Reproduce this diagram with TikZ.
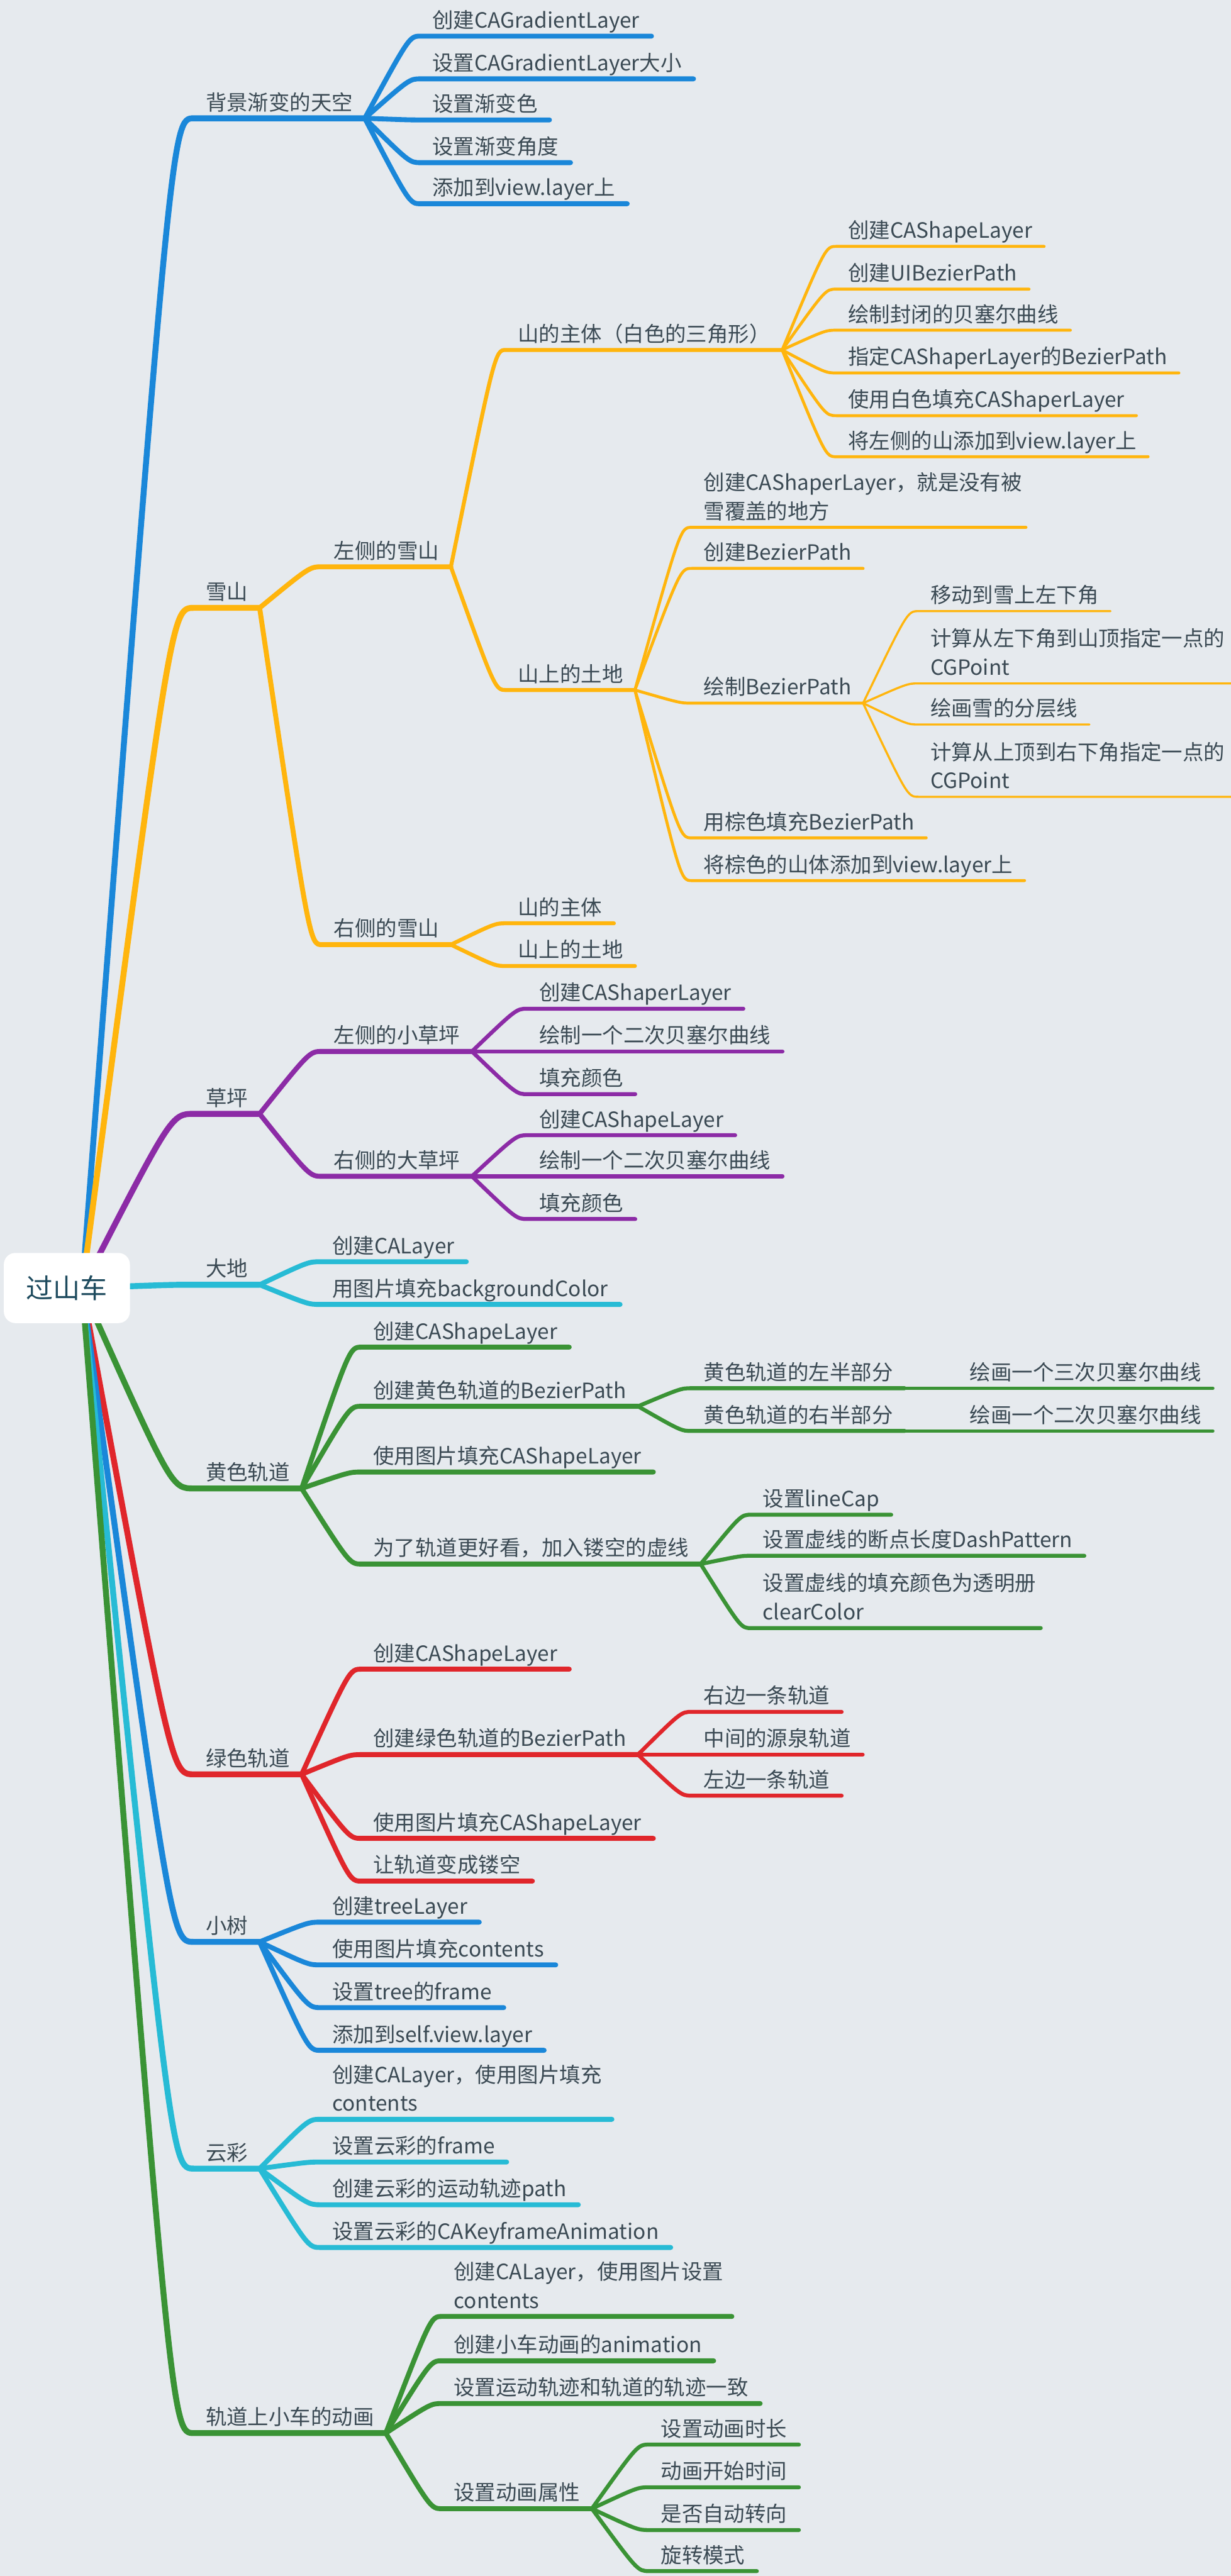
\documentclass[tikz,border=0pt]{standalone}
\usepackage{fontspec}
\setmainfont{Noto Sans CJK SC}
\usetikzlibrary{calc}

\definecolor{bg}{HTML}{E6EAEE}
\definecolor{ink}{HTML}{3B4A54}
\definecolor{rootink}{HTML}{1E4B5E}
\definecolor{skyblue}{HTML}{1A87D9}
\definecolor{snow}{HTML}{FFB50D}
\definecolor{grass}{HTML}{8C2BA6}
\definecolor{earth}{HTML}{27BBD5}
\definecolor{leaf}{HTML}{3A9335}
\definecolor{rail}{HTML}{E0262B}

\begin{document}
\begin{tikzpicture}[x=1pt,y=-1pt,
    lbl/.style={anchor=south west, inner xsep=7pt, inner ysep=1.6pt, text depth=3.2pt,
        text=ink, font=\fontsize{12.8}{17.5}\selectfont},
    twig/.style={to path={.. controls ($(\tikztostart |- \tikztotarget)!0.8!(\tikztotarget)$) .. (\tikztotarget)}},
    wA/.style={line width=3.6pt, line cap=round, line join=round},
    wB/.style={line width=3pt, line cap=round, line join=round},
    wC/.style={line width=2.4pt, line cap=round, line join=round},
    wD/.style={line width=1.8pt, line cap=round, line join=round},
    wE/.style={line width=1.3pt, line cap=round, line join=round}]
    \useasboundingbox (0,0) rectangle (749,1568);
    \fill[bg] (0,0) rectangle (749,1568);
    \coordinate (hub) at (50,784);

    % 背景渐变的天空
    \node[lbl] (sky) at (118,72) {背景渐变的天空};
    \draw[skyblue,wA] (hub) to[twig] (sky.south west) -- (sky.south east);
    \node[lbl] (sky1) at (256,22) {创建CAGradientLayer};
    \node[lbl] (sky2) at (256,48) {设置CAGradientLayer大小};
    \node[lbl] (sky3) at (256,73) {设置渐变色};
    \node[lbl] (sky4) at (256,99) {设置渐变角度};
    \node[lbl] (sky5) at (256,124) {添加到view.layer上};
    \draw[skyblue,wB] (sky.south east) to[twig] (sky1.south west) -- (sky1.south east);
    \draw[skyblue,wB] (sky.south east) to[twig] (sky2.south west) -- (sky2.south east);
    \draw[skyblue,wB] (sky.south east) to[twig] (sky3.south west) -- (sky3.south east);
    \draw[skyblue,wB] (sky.south east) to[twig] (sky4.south west) -- (sky4.south east);
    \draw[skyblue,wB] (sky.south east) to[twig] (sky5.south west) -- (sky5.south east);

    % 雪山
    \node[lbl] (snow) at (118,370) {雪山};
    \draw[snow,wA] (hub) to[twig] (snow.south west) -- (snow.south east);
    \node[lbl] (snowL) at (196,345) {左侧的雪山};
    \node[lbl] (snowR) at (196,575) {右侧的雪山};
    \draw[snow,wB] (snow.south east) to[twig] (snowL.south west) -- (snowL.south east);
    \draw[snow,wB] (snow.south east) to[twig] (snowR.south west) -- (snowR.south east);

    \node[lbl] (bodyL) at (308,213) {山的主体（白色的三角形）};
    \node[lbl] (soilL) at (308,420) {山上的土地};
    \draw[snow,wC] (snowL.south east) to[twig] (bodyL.south west) -- (bodyL.south east);
    \draw[snow,wC] (snowL.south east) to[twig] (soilL.south west) -- (soilL.south east);

    \node[lbl] (body1) at (509,150) {创建CAShapeLayer};
    \node[lbl] (body2) at (509,176) {创建UIBezierPath};
    \node[lbl] (body3) at (509,201) {绘制封闭的贝塞尔曲线};
    \node[lbl] (body4) at (509,227) {指定CAShaperLayer的BezierPath};
    \node[lbl] (body5) at (509,253) {使用白色填充CAShaperLayer};
    \node[lbl] (body6) at (509,278) {将左侧的山添加到view.layer上};
    \draw[snow,wD] (bodyL.south east) to[twig] (body1.south west) -- (body1.south east);
    \draw[snow,wD] (bodyL.south east) to[twig] (body2.south west) -- (body2.south east);
    \draw[snow,wD] (bodyL.south east) to[twig] (body3.south west) -- (body3.south east);
    \draw[snow,wD] (bodyL.south east) to[twig] (body4.south west) -- (body4.south east);
    \draw[snow,wD] (bodyL.south east) to[twig] (body5.south west) -- (body5.south east);
    \draw[snow,wD] (bodyL.south east) to[twig] (body6.south west) -- (body6.south east);

    \node[lbl] (soil1) at (421,321) {\parbox[b]{189pt}{创建CAShaperLayer，就是没有被\\雪覆盖的地方}};
    \node[lbl] (soil2) at (421,346) {创建BezierPath};
    \node[lbl] (soil3) at (421,428) {绘制BezierPath};
    \node[lbl] (soil4) at (421,510) {用棕色填充BezierPath};
    \node[lbl] (soil5) at (421,536) {将棕色的山体添加到view.layer上};
    \draw[snow,wD] (soilL.south east) to[twig] (soil1.south west) -- (soil1.south east);
    \draw[snow,wD] (soilL.south east) to[twig] (soil2.south west) -- (soil2.south east);
    \draw[snow,wD] (soilL.south east) to[twig] (soil3.south west) -- (soil3.south east);
    \draw[snow,wD] (soilL.south east) to[twig] (soil4.south west) -- (soil4.south east);
    \draw[snow,wD] (soilL.south east) to[twig] (soil5.south west) -- (soil5.south east);

    \node[lbl] (path1) at (559,372) {移动到雪上左下角};
    \node[lbl] (path2) at (559,416) {\parbox[b]{180pt}{计算从左下角到山顶指定一点的\\CGPoint}};
    \node[lbl] (path3) at (559,441) {绘画雪的分层线};
    \node[lbl] (path4) at (559,485) {\parbox[b]{180pt}{计算从上顶到右下角指定一点的\\CGPoint}};
    \draw[snow,wE] (soil3.south east) to[twig] (path1.south west) -- (path1.south east);
    \draw[snow,wE] (soil3.south east) to[twig] (path2.south west) -- (path2.south east);
    \draw[snow,wE] (soil3.south east) to[twig] (path3.south west) -- (path3.south east);
    \draw[snow,wE] (soil3.south east) to[twig] (path4.south west) -- (path4.south east);

    \node[lbl] (bodyR) at (308,562) {山的主体};
    \node[lbl] (soilR) at (308,588) {山上的土地};
    \draw[snow,wC] (snowR.south east) to[twig] (bodyR.south west) -- (bodyR.south east);
    \draw[snow,wC] (snowR.south east) to[twig] (soilR.south west) -- (soilR.south east);

    % 草坪
    \node[lbl] (lawn) at (118,678) {草坪};
    \draw[grass,wA] (hub) to[twig] (lawn.south west) -- (lawn.south east);
    \node[lbl] (lawnL) at (196,640) {左侧的小草坪};
    \node[lbl] (lawnR) at (196,716) {右侧的大草坪};
    \draw[grass,wB] (lawn.south east) to[twig] (lawnL.south west) -- (lawnL.south east);
    \draw[grass,wB] (lawn.south east) to[twig] (lawnR.south west) -- (lawnR.south east);
    \node[lbl] (lawnL1) at (321,614) {创建CAShaperLayer};
    \node[lbl] (lawnL2) at (321,640) {绘制一个二次贝塞尔曲线};
    \node[lbl] (lawnL3) at (321,666) {填充颜色};
    \node[lbl] (lawnR1) at (321,691) {创建CAShapeLayer};
    \node[lbl] (lawnR2) at (321,716) {绘制一个二次贝塞尔曲线};
    \node[lbl] (lawnR3) at (321,742) {填充颜色};
    \draw[grass,wC] (lawnL.south east) to[twig] (lawnL1.south west) -- (lawnL1.south east);
    \draw[grass,wC] (lawnL.south east) to[twig] (lawnL2.south west) -- (lawnL2.south east);
    \draw[grass,wC] (lawnL.south east) to[twig] (lawnL3.south west) -- (lawnL3.south east);
    \draw[grass,wC] (lawnR.south east) to[twig] (lawnR1.south west) -- (lawnR1.south east);
    \draw[grass,wC] (lawnR.south east) to[twig] (lawnR2.south west) -- (lawnR2.south east);
    \draw[grass,wC] (lawnR.south east) to[twig] (lawnR3.south west) -- (lawnR3.south east);

    % 大地
    \node[lbl] (ground) at (118,782) {大地};
    \draw[earth,wA] (hub) to[twig] (ground.south west) -- (ground.south east);
    \node[lbl] (ground1) at (195,768) {创建CALayer};
    \node[lbl] (ground2) at (195,794) {用图片填充backgroundColor};
    \draw[earth,wB] (ground.south east) to[twig] (ground1.south west) -- (ground1.south east);
    \draw[earth,wB] (ground.south east) to[twig] (ground2.south west) -- (ground2.south east);

    % 黄色轨道
    \node[lbl] (ytrack) at (118,906) {黄色轨道};
    \draw[leaf,wA] (hub) to[twig] (ytrack.south west) -- (ytrack.south east);
    \node[lbl] (ytrack1) at (220,820) {创建CAShapeLayer};
    \node[lbl] (ytrack2) at (220,856) {创建黄色轨道的BezierPath};
    \node[lbl] (ytrack3) at (220,896) {使用图片填充CAShapeLayer};
    \node[lbl] (ytrack4) at (220,952) {为了轨道更好看，加入镂空的虚线};
    \draw[leaf,wB] (ytrack.south east) to[twig] (ytrack1.south west) -- (ytrack1.south east);
    \draw[leaf,wB] (ytrack.south east) to[twig] (ytrack2.south west) -- (ytrack2.south east);
    \draw[leaf,wB] (ytrack.south east) to[twig] (ytrack3.south west) -- (ytrack3.south east);
    \draw[leaf,wB] (ytrack.south east) to[twig] (ytrack4.south west) -- (ytrack4.south east);
    \node[lbl] (yleft) at (421,845) {黄色轨道的左半部分};
    \node[lbl] (yright) at (421,871) {黄色轨道的右半部分};
    \draw[leaf,wC] (ytrack2.south east) to[twig] (yleft.south west) -- (yleft.south east);
    \draw[leaf,wC] (ytrack2.south east) to[twig] (yright.south west) -- (yright.south east);
    \node[lbl] (ycubic) at (583,845) {绘画一个三次贝塞尔曲线};
    \node[lbl] (yquad) at (583,871) {绘画一个二次贝塞尔曲线};
    \draw[leaf,wD] (yleft.south east) -- (ycubic.south west) -- (ycubic.south east);
    \draw[leaf,wD] (yright.south east) -- (yquad.south west) -- (yquad.south east);
    \node[lbl] (ydash1) at (457,922) {设置lineCap};
    \node[lbl] (ydash2) at (457,947) {设置虚线的断点长度DashPattern};
    \node[lbl] (ydash3) at (457,991) {\parbox[b]{162pt}{设置虚线的填充颜色为透明册\\clearColor}};
    \draw[leaf,wC] (ytrack4.south east) to[twig] (ydash1.south west) -- (ydash1.south east);
    \draw[leaf,wC] (ytrack4.south east) to[twig] (ydash2.south west) -- (ydash2.south east);
    \draw[leaf,wC] (ytrack4.south east) to[twig] (ydash3.south west) -- (ydash3.south east);

    % 绿色轨道
    \node[lbl] (gtrack) at (118,1080) {绿色轨道};
    \draw[rail,wA] (hub) to[twig] (gtrack.south west) -- (gtrack.south east);
    \node[lbl] (gtrack1) at (220,1016) {创建CAShapeLayer};
    \node[lbl] (gtrack2) at (220,1068) {创建绿色轨道的BezierPath};
    \node[lbl] (gtrack3) at (220,1119) {使用图片填充CAShapeLayer};
    \node[lbl] (gtrack4) at (220,1145) {让轨道变成镂空};
    \draw[rail,wB] (gtrack.south east) to[twig] (gtrack1.south west) -- (gtrack1.south east);
    \draw[rail,wB] (gtrack.south east) to[twig] (gtrack2.south west) -- (gtrack2.south east);
    \draw[rail,wB] (gtrack.south east) to[twig] (gtrack3.south west) -- (gtrack3.south east);
    \draw[rail,wB] (gtrack.south east) to[twig] (gtrack4.south west) -- (gtrack4.south east);
    \node[lbl] (gpath1) at (421,1042) {右边一条轨道};
    \node[lbl] (gpath2) at (421,1068) {中间的源泉轨道};
    \node[lbl] (gpath3) at (421,1093) {左边一条轨道};
    \draw[rail,wC] (gtrack2.south east) to[twig] (gpath1.south west) -- (gpath1.south east);
    \draw[rail,wC] (gtrack2.south east) to[twig] (gpath2.south west) -- (gpath2.south east);
    \draw[rail,wC] (gtrack2.south east) to[twig] (gpath3.south west) -- (gpath3.south east);

    % 小树
    \node[lbl] (tree) at (118,1182) {小树};
    \draw[skyblue,wA] (hub) to[twig] (tree.south west) -- (tree.south east);
    \node[lbl] (tree1) at (195,1170) {创建treeLayer};
    \node[lbl] (tree2) at (195,1196) {使用图片填充contents};
    \node[lbl] (tree3) at (195,1222) {设置tree的frame};
    \node[lbl] (tree4) at (195,1248) {添加到self.view.layer};
    \draw[skyblue,wB] (tree.south east) to[twig] (tree1.south west) -- (tree1.south east);
    \draw[skyblue,wB] (tree.south east) to[twig] (tree2.south west) -- (tree2.south east);
    \draw[skyblue,wB] (tree.south east) to[twig] (tree3.south west) -- (tree3.south east);
    \draw[skyblue,wB] (tree.south east) to[twig] (tree4.south west) -- (tree4.south east);

    % 云彩
    \node[lbl] (cloud) at (118,1320) {云彩};
    \draw[earth,wA] (hub) to[twig] (cloud.south west) -- (cloud.south east);
    \node[lbl] (cloud1) at (195,1290) {\parbox[b]{163pt}{创建CALayer，使用图片填充\\contents}};
    \node[lbl] (cloud2) at (195,1316) {设置云彩的frame};
    \node[lbl] (cloud3) at (195,1342) {创建云彩的运动轨迹path};
    \node[lbl] (cloud4) at (195,1368) {设置云彩的CAKeyframeAnimation};
    \draw[earth,wB] (cloud.south east) to[twig] (cloud1.south west) -- (cloud1.south east);
    \draw[earth,wB] (cloud.south east) to[twig] (cloud2.south west) -- (cloud2.south east);
    \draw[earth,wB] (cloud.south east) to[twig] (cloud3.south west) -- (cloud3.south east);
    \draw[earth,wB] (cloud.south east) to[twig] (cloud4.south west) -- (cloud4.south east);

    % 轨道上小车的动画
    \node[lbl] (car) at (118,1481) {轨道上小车的动画};
    \draw[leaf,wA] (hub) to[twig] (car.south west) -- (car.south east);
    \node[lbl] (car1) at (269,1410) {\parbox[b]{162pt}{创建CALayer，使用图片设置\\contents}};
    \node[lbl] (car2) at (269,1437) {创建小车动画的animation};
    \node[lbl] (car3) at (269,1463) {设置运动轨迹和轨道的轨迹一致};
    \node[lbl] (car4) at (269,1527) {设置动画属性};
    \draw[leaf,wB] (car.south east) to[twig] (car1.south west) -- (car1.south east);
    \draw[leaf,wB] (car.south east) to[twig] (car2.south west) -- (car2.south east);
    \draw[leaf,wB] (car.south east) to[twig] (car3.south west) -- (car3.south east);
    \draw[leaf,wB] (car.south east) to[twig] (car4.south west) -- (car4.south east);
    \node[lbl] (prop1) at (395,1488) {设置动画时长};
    \node[lbl] (prop2) at (395,1514) {动画开始时间};
    \node[lbl] (prop3) at (395,1540) {是否自动转向};
    \node[lbl] (prop4) at (395,1565) {旋转模式};
    \draw[leaf,wC] (car4.south east) to[twig] (prop1.south west) -- (prop1.south east);
    \draw[leaf,wC] (car4.south east) to[twig] (prop2.south west) -- (prop2.south east);
    \draw[leaf,wC] (car4.south east) to[twig] (prop3.south west) -- (prop3.south east);
    \draw[leaf,wC] (car4.south east) to[twig] (prop4.south west) -- (prop4.south east);

    % root on top of the branch roots
    \node[fill=white, rounded corners=7pt, minimum width=76.7pt, minimum height=42.7pt,
        text=rootink, font=\fontsize{16.5}{20}\selectfont] (root) at (40.7,784) {过山车};
\end{tikzpicture}
\end{document}
